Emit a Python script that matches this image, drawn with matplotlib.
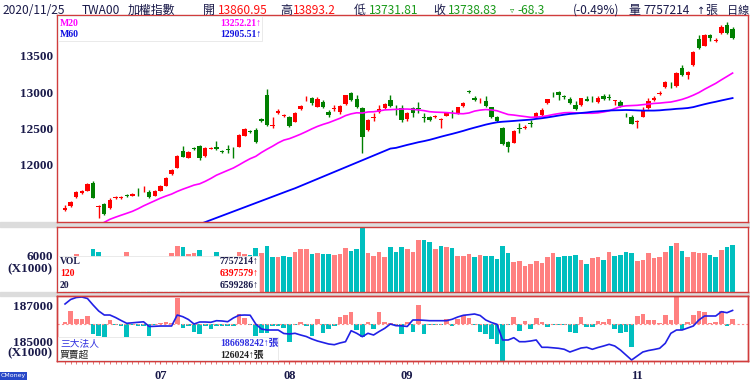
import numpy as np
import pandas as pd
import matplotlib
matplotlib.use("Agg")
import matplotlib.pyplot as plt
from matplotlib.patches import Rectangle

W, H = 750, 391

# ---- daily data, 2020/06/04 .. 2020/11/25 (120 sessions) ----
opens = [11390, 11442, 11561, 11612, 11648, 11753, 11424, 11466, 11411, 11545,
         11544, 11585, 11579, 11635, 11665, 11630, 11579, 11644, 11716, 11872,
         11963, 12192, 12100, 12237, 12260, 12123, 12225, 12251, 12185, 12218,
         12222, 12251, 12401, 12460, 12479, 12626, 12959, 12540, 12708, 12670,
         12658, 12593, 12763, 12912, 12914, 12799, 12867, 12726, 12770, 12722,
         12831, 12982, 12908, 12777, 12479, 12648, 12722, 12777, 12890, 12767,
         12777, 12630, 12777, 12780, 12657, 12653, 12655, 12622, 12675, 12703,
         12708, 12808, 13006, 12922, 12885, 12881, 12790, 12662, 12503, 12319,
         12305, 12511, 12503, 12575, 12653, 12685, 12845, 12976, 13000, 12940,
         12904, 12822, 12818, 12900, 12893, 12867, 12949, 12930, 12878, 12859,
         12688, 12662, 12588, 12662, 12777, 12890, 12968, 13064, 13100, 13082,
         13333, 13233, 13370, 13722, 13634, 13781, 13705, 13804, 13918, 13861]
closes = [11404, 11497, 11630, 11648, 11740, 11552, 11438, 11329, 11520, 11555,
          11566, 11575, 11603, 11625, 11675, 11561, 11644, 11716, 11822, 11931,
          12127, 12114, 12182, 12215, 12092, 12233, 12235, 12219, 12178, 12212,
          12216, 12411, 12493, 12450, 12319, 12603, 12548, 12546, 12740, 12680,
          12534, 12708, 12812, 12920, 12845, 12904, 12790, 12689, 12777, 12804,
          12959, 12890, 12790, 12379, 12616, 12657, 12767, 12836, 12808, 12760,
          12616, 12708, 12718, 12773, 12650, 12616, 12675, 12630, 12708, 12695,
          12790, 12853, 12999, 12890, 12893, 12808, 12662, 12607, 12288, 12251,
          12470, 12489, 12525, 12568, 12708, 12753, 12900, 12969, 12959, 12933,
          12845, 12763, 12914, 12877, 12886, 12922, 12904, 12923, 12885, 12808,
          12681, 12562, 12597, 12744, 12877, 12922, 12990, 13133, 13093, 13264,
          13233, 13278, 13552, 13599, 13781, 13736, 13712, 13886, 13807, 13739]
highs = [11450, 11510, 11644, 11660, 11755, 11781, 11450, 11480, 11548, 11580,
         11580, 11600, 11615, 11680, 11710, 11655, 11655, 11725, 11830, 11945,
         12135, 12260, 12195, 12250, 12275, 12240, 12250, 12329, 12210, 12274,
         12240, 12420, 12500, 12475, 12511, 12640, 13041, 12662, 12767, 12700,
         12670, 12720, 12825, 12950, 12932, 12927, 12895, 12753, 12820, 12820,
         12965, 13004, 12955, 12790, 12625, 12712, 12822, 12845, 12963, 12822,
         12822, 12730, 12795, 12867, 12712, 12670, 12690, 12640, 12720, 12753,
         12800, 12865, 13027, 12945, 12922, 12941, 12800, 12670, 12515, 12330,
         12480, 12575, 12545, 12616, 12720, 12781, 12910, 13004, 13014, 12963,
         12936, 12877, 12920, 12941, 12941, 12941, 12973, 12969, 12895, 12890,
         12712, 12685, 12610, 12790, 12918, 12949, 13010, 13145, 13141, 13275,
         13370, 13290, 13565, 13781, 13795, 13795, 13740, 13918, 13963, 13893]
lows = [11370, 11430, 11550, 11600, 11640, 11545, 11274, 11320, 11400, 11530,
        11535, 11565, 11570, 11580, 11630, 11548, 11570, 11640, 11710, 11865,
        11955, 12105, 12090, 12205, 12070, 12115, 12215, 12210, 12160, 12160,
        12096, 12245, 12395, 12440, 12297, 12595, 12540, 12503, 12700, 12660,
        12525, 12585, 12755, 12875, 12822, 12790, 12780, 12660, 12740, 12700,
        12825, 12880, 12780, 12160, 12470, 12603, 12715, 12770, 12800, 12685,
        12593, 12607, 12657, 12708, 12593, 12600, 12645, 12503, 12665, 12644,
        12700, 12800, 12982, 12880, 12850, 12800, 12650, 12595, 12275, 12182,
        12295, 12438, 12495, 12525, 12645, 12677, 12835, 12936, 12890, 12904,
        12831, 12753, 12810, 12870, 12859, 12850, 12895, 12890, 12822, 12800,
        12657, 12555, 12503, 12655, 12770, 12880, 12960, 13055, 13051, 13075,
        13225, 13178, 13360, 13590, 13625, 13699, 13689, 13795, 13795, 13732]

# moving averages before enough sessions are on screen
m20_head = [11170, 11215, 11256, 11285, 11312, 11338, 11365, 11400, 11440,
            11475, 11510, 11545, 11575]                    # sessions 6..18
m60_head = [11190, 11218, 11247, 11276, 11305, 11334, 11363, 11392, 11421,
            11450, 11479, 11508, 11537, 11566, 11595, 11624, 11653, 11681,
            11713, 11745, 11777, 11809, 11841, 11873, 11905, 11937, 11969,
            12001, 12033, 12065, 12097, 12129, 12161, 12193, 12225]  # 24..58

# volume, thousand lots
volume = [5200, 5400, 6350, 5500, 5800, 7117, 6717, 5600, 5500, 5300,
          5400, 6717, 5200, 5300, 5600, 5400, 5500, 5700, 5800, 6450,
          7717, 7550, 6333, 6450, 7000, 5800, 5700, 6717, 5600, 5500,
          5800, 6617, 6333, 6200, 7283, 6550, 7717, 5783, 5783, 6000,
          5783, 6617, 7117, 7217, 6333, 6550, 6333, 6333, 6167, 6333,
          7283, 6833, 7167, 10617, 6550, 6000, 6617, 5883, 7550, 6717,
          7500, 7117, 6717, 8667, 8667, 8383, 7117, 7617, 7500, 7283,
          5950, 6000, 6283, 5783, 6117, 6000, 6000, 5500, 7667, 6500,
          4950, 5167, 4283, 4667, 5167, 4833, 5783, 6450, 5783, 6000,
          6000, 6167, 5333, 4717, 5617, 5783, 5333, 6617, 6000, 6167,
          6717, 6450, 5217, 5333, 6450, 5617, 5783, 6717, 7667, 8117,
          6833, 5883, 6717, 6550, 6550, 6167, 5883, 7000, 7500, 7757]

# institutional net buy/sell, thousand lots
net_buy = [40, 330, 126, 126, 210, -252, -300, -319, 100, -30,
           -50, -319, -30, -50, -40, -294, -20, 30, 59, 30,
           647, -110, -40, -193, -260, -50, -134, -60, -40, -40,
           -40, 252, 143, -30, -303, -235, -218, -60, -50, -100,
           -462, -20, 42, -50, -303, 118, -218, -134, -40, 168,
           227, 300, -150, -336, 59, -134, 294, 42, 17, -60,
           -250, 60, -210, 480, -260, -20, -20, -20, 117, -50,
           117, 227, 143, -20, -210, -250, -387, -504, -950, -20,
           168, -168, 76, -134, 160, 42, -84, -30, -30, -30,
           -193, -218, 185, -84, -63, 84, 42, 126, -134, -218,
           -193, -571, 210, 252, 100, 100, 34, 227, 100, 680,
           -150, 50, 227, 328, 294, 20, 42, 328, -50, 126]

# institutional holdings, x1000 lots
holdings = [187056, 187306, 187417, 187444, 187361, 187000, 186667, 186444, 186444, 186306,
            186139, 185983, 186011, 186039, 186067, 185806, 185817, 185833, 185833, 185833,
            186444, 186350, 186194, 185944, 186056, 186056, 186039, 186128, 186111, 186072,
            186278, 186428, 186444, 186433, 185944, 185667, 185611, 185611, 185611, 185417,
            185389, 185428, 185333, 185250, 185111, 185000, 184917, 184833, 184794, 184889,
            184961, 185572, 185428, 185239, 185428, 185333, 185528, 185706, 185944, 185850,
            185844, 185806, 186167, 186167, 186150, 186128, 186128, 186128, 186128, 186206,
            186333, 186428, 186461, 186500, 186417, 186167, 186028, 185928, 185056, 185056,
            185183, 184961, 184961, 185000, 185056, 184650, 184650, 184622, 184594, 184539,
            184389, 184500, 184611, 184650, 184539, 184639, 184722, 184817, 184722, 184500,
            184222, 183944, 184167, 184389, 184472, 184528, 184594, 184872, 185428, 185611,
            185611, 185722, 185833, 186167, 186389, 186389, 186389, 186628, 186572, 186698]

month_pos = [17, 40, 61, 102]
month_labels = ["07", "08", "09", "11"]

# ---------------------------------------------------------------
idx = np.arange(len(closes))
o, c = np.array(opens), np.array(closes)
hi, lo = np.array(highs), np.array(lows)

m20 = pd.Series(closes).rolling(20).mean().to_numpy()
m20[6:19] = m20_head
m60 = pd.Series(closes).rolling(60).mean().to_numpy()
m60[24:59] = m60_head

NAVY = "#1a1a4a"
BORDER = "#d03c3c"
SERIF = ["Liberation Serif", "DejaVu Serif"]
SERIF_CJK = ["Liberation Serif", "Noto Sans CJK TC"]
XLIM = (-1.43, 121.75)


def px_axes(fig, left, top, right, bottom):
    return fig.add_axes([left / W, 1 - bottom / H, (right - left) / W, (bottom - top) / H])


def style(ax):
    for s in ax.spines.values():
        s.set_color(BORDER)
        s.set_linewidth(1.0)
    ax.set_xlim(*XLIM)
    ax.tick_params(axis="y", length=0, pad=3, labelcolor=NAVY)


def ftext(x, y, s, **kw):
    kw.setdefault("va", "center")
    kw.setdefault("zorder", 6)
    fig.text(x / W, 1 - y / H, s, **kw)


fig = plt.figure(figsize=(7.5, 3.91), dpi=100)
for top, bot in [(222, 227), (292, 296)]:
    fig.patches.append(Rectangle((0, 1 - bot / H), 1, (bot - top) / H,
                                 transform=fig.transFigure, color="#dcdcdc", zorder=-1))

# ---- price panel ----
ax1 = px_axes(fig, 57, 15, 748, 222)
style(ax1)
col = np.where(c >= o, "#ff0000", "#008000")
ax1.vlines(idx, lo, hi, colors=col, lw=1)
ax1.bar(idx, np.maximum(np.abs(c - o), 9), bottom=np.minimum(o, c), width=0.78,
        color=col, linewidth=0)
ax1.plot(idx, m20, color="#ff00ff", lw=1.2)
ax1.plot(idx, m60, color="#0000ff", lw=1.3)
ax1.set_ylim(11219, 14055)
ax1.set_yticks([12000, 12500, 13000, 13500])
ax1.set_yticklabels(["12000", "12500", "13000", "13500"], family=SERIF,
                    weight="bold", fontsize=9.5)
ax1.set_xticks([])

# ---- volume panel ----
ax2 = px_axes(fig, 57, 227, 748, 292)
style(ax2)
vol_up = np.r_[True, c[1:] >= c[:-1]]
ax2.bar(idx, volume, width=0.82, color=np.where(vol_up, "#ff8080", "#00bfbf"), linewidth=0)
ax2.set_ylim(0, 10833)
ax2.set_yticks([6000])
ax2.set_yticklabels(["6000"], family=SERIF, weight="bold", fontsize=9.5)
ax2.set_xticks([])
ftext(53, 269, "(X1000)", ha="right", family=SERIF, weight="bold", fontsize=9.5, color=NAVY)

# ---- institutional panel ----
ax3 = px_axes(fig, 57, 296, 748, 361)
style(ax3)
ax3.bar(idx, net_buy, width=0.82,
        color=np.where(np.array(net_buy) >= 0, "#ff8080", "#00bfbf"), linewidth=0)
ax3.axhline(0, color="#ff8a8a", lw=0.8, ls=(0, (2, 2)))
ax3.set_ylim(-932, 706)
ax3.set_yticks([])
ax3.set_xticks(month_pos)
ax3.set_xticklabels(month_labels, family=SERIF, weight="bold", fontsize=9, color=NAVY)
ax3.set_xticks(idx, minor=True)
ax3.tick_params(axis="x", which="both", length=2.5, color="#e06060", pad=4)

ax3b = ax3.twinx()
ax3b.plot(idx, holdings, color="#2020e6", lw=1.2)
ax3b.set_ylim(183889, 187500)
ax3b.yaxis.tick_left()
ax3b.set_yticks([185000, 187000])
ax3b.set_yticklabels(["185000", "187000"], family=SERIF, weight="bold", fontsize=9.5)
style(ax3b)
ftext(53, 353, "(X1000)", ha="right", family=SERIF, weight="bold", fontsize=9.5, color=NAVY)

# ---- legend boxes ----
for x0, y0, x1, y1 in [(58, 16, 262, 41), (58, 256, 259, 291), (58, 337, 278, 360)]:
    fig.patches.append(Rectangle((x0 / W, 1 - y1 / H), (x1 - x0) / W, (y1 - y0) / H,
                                 transform=fig.transFigure, facecolor="white",
                                 edgecolor="#e6e6e6", lw=0.6, zorder=5))

leg = dict(family=SERIF, weight="bold", fontsize=7)
ftext(60, 23.5, "M20", color="#ff00ff", **leg)
ftext(220, 23.5, "13252.21\u2191", color="#ff00ff", **leg)
ftext(60, 34.5, "M60", color="#1010e0", **leg)
ftext(220, 34.5, "12905.51\u2191", color="#1010e0", **leg)

ftext(60, 262, "VOL", color=NAVY, **leg)
ftext(220, 262, "7757214\u2191", color=NAVY, **leg)
ftext(60, 274, "120", color="#ff0000", **leg)
ftext(220, 274, "6397579\u2191", color="#ff0000", **leg)
ftext(60, 285, "20", color=NAVY, **leg)
ftext(220, 285, "6599286\u2191", color=NAVY, **leg)

legc = dict(family=SERIF_CJK, weight="bold", fontsize=7)
ftext(60, 343, "三大法人", color="#3030e0", family="Noto Sans CJK TC", fontsize=7)
ftext(220, 343, "186698242\u2191張", color="#3030e0", **legc)
ftext(60, 355, "買賣超", color="#202020", family="Noto Sans CJK TC", fontsize=7)
ftext(220, 355, "126024\u2191張", color="#202020", **legc)

# ---- header ----
hd = dict(family=["Noto Sans CJK TC", "DejaVu Sans"], fontsize=8.6)
GREEN = "#1a9a1a"
ftext(3, 10.5, "2020/11/25", color=NAVY, **hd)
ftext(82, 10.5, "TWA00", color=NAVY, **hd)
ftext(128, 10.5, "加權指數", color=NAVY, **hd)
ftext(203, 10.5, "開", color=NAVY, **hd)
ftext(218, 10.5, "13860.95", color="#ff1010", **hd)
ftext(280, 10.5, "高", color=NAVY, **hd)
ftext(293, 10.5, "13893.2", color="#ff1010", **hd)
ftext(354, 10.5, "低", color=NAVY, **hd)
ftext(369, 10.5, "13731.81", color=GREEN, **hd)
ftext(433, 10.5, "收", color=NAVY, **hd)
ftext(448, 10.5, "13738.83", color=GREEN, **hd)
ftext(510, 10.5, "\u25bf", color=GREEN, family="DejaVu Sans", fontsize=6)
ftext(517, 10.5, "-68.3", color=GREEN, **hd)
ftext(573, 10.5, "(-0.49%)", color=NAVY, **hd)
ftext(628, 10.5, "量", color=NAVY, **hd)
ftext(643, 10.5, "7757214", color=NAVY, **hd)
ftext(697, 10.5, "\u2191", color=NAVY, family="DejaVu Sans", fontsize=7)
ftext(705, 10.5, "張", color=NAVY, **hd)
ftext(727, 10.5, "日線", color=NAVY, family="Noto Sans CJK TC", fontsize=8)

ftext(1, 376, "CMoney", color="white", fontsize=4.5, family="DejaVu Sans",
      bbox=dict(facecolor="#2848c8", edgecolor="none", pad=0.8))

fig.savefig("out.png", dpi=100)
